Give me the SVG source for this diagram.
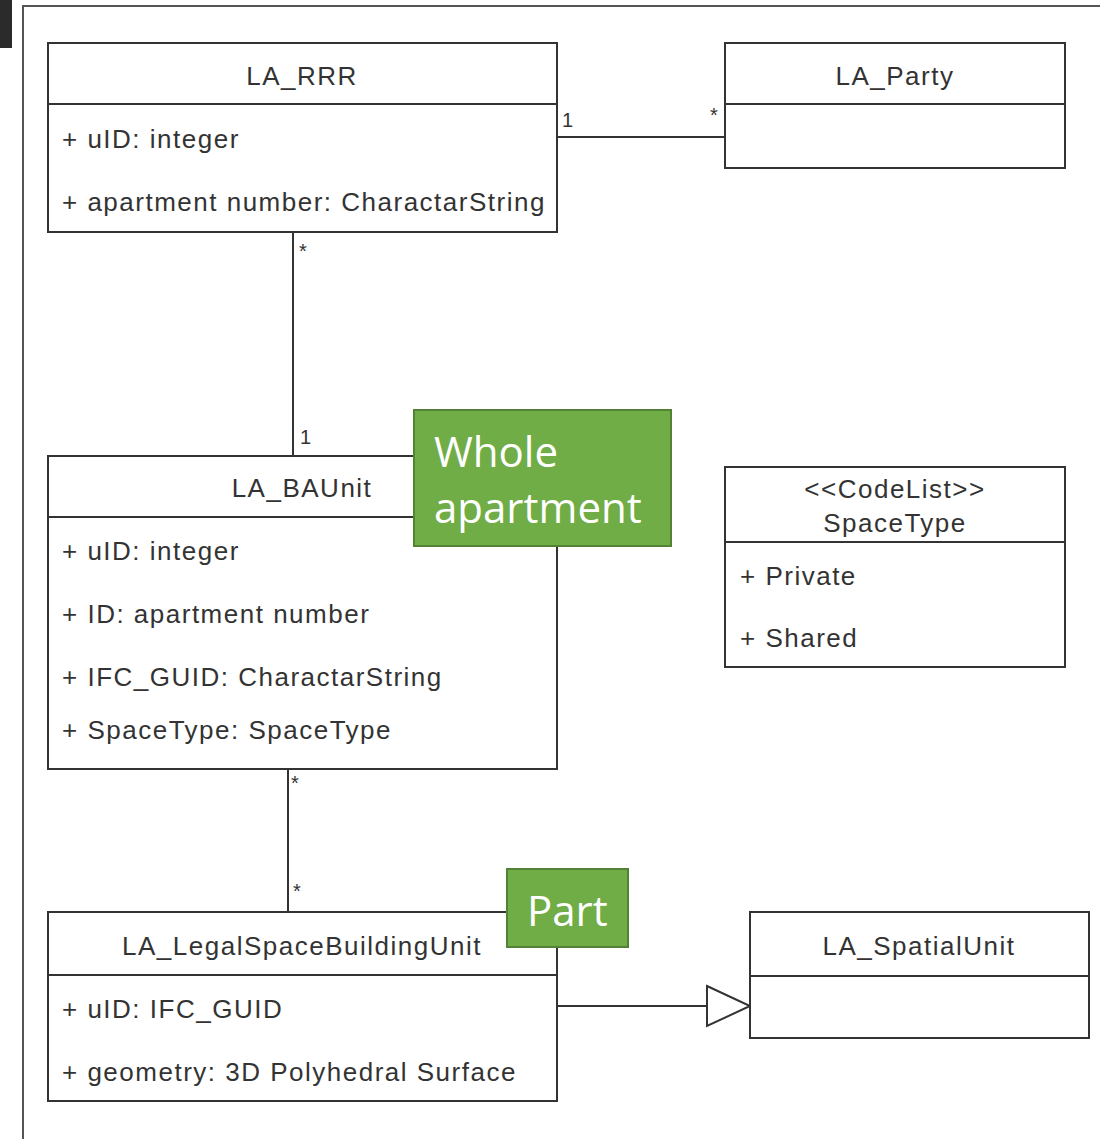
<svg xmlns="http://www.w3.org/2000/svg" width="1100" height="1139" viewBox="0 0 1100 1139">
<style>
.box{fill:#fff;stroke:#333;stroke-width:2}
.ln{stroke:#333;stroke-width:2;fill:none}
.t{font-family:"Liberation Sans",Arial,sans-serif;font-size:26px;letter-spacing:1.5px;fill:#333}
.c{text-anchor:middle}
.m{font-family:"Liberation Sans",Arial,sans-serif;font-size:20px;fill:#333}
.tag{fill:#70ad47;stroke:#548235;stroke-width:2}
.gt{font-family:"Open Sans","Noto Sans",sans-serif;font-size:42px;fill:#fff}
</style>
<rect x="0" y="0" width="1100" height="1139" fill="#fff"/>
<rect x="0" y="0" width="12" height="48" fill="#2b2b2b"/>
<path d="M23,1139 V6 H1100" class="ln" stroke-width="2.5" style="stroke:#555"/>
<g id="connectors">
<line x1="557" y1="137" x2="725" y2="137" class="ln"/>
<text x="562" y="127" class="m">1</text>
<text x="710" y="122" class="m">*</text>
<line x1="293" y1="232" x2="293" y2="456" class="ln"/>
<text x="299" y="258" class="m">*</text>
<text x="300" y="444" class="m">1</text>
<line x1="288" y1="769" x2="288" y2="912" class="ln"/>
<text x="291" y="790" class="m">*</text>
<text x="293" y="898" class="m">*</text>
<line x1="557" y1="1006" x2="707" y2="1006" class="ln"/>
<polygon points="707,986 750,1006 707,1026" class="box"/>
</g>
<g id="LA_RRR">
<rect x="48" y="43" width="509" height="189" class="box"/>
<line x1="48" y1="104" x2="557" y2="104" class="ln"/>
<text x="302" y="85" class="t c">LA_RRR</text>
<text x="62" y="148" class="t">+ uID: integer</text>
<text x="62" y="211" class="t">+ apartment number: CharactarString</text>
</g>
<g id="LA_Party">
<rect x="725" y="43" width="340" height="125" class="box"/>
<line x1="725" y1="104" x2="1065" y2="104" class="ln"/>
<text x="895" y="85" class="t c">LA_Party</text>
</g>
<g id="LA_BAUnit">
<rect x="48" y="456" width="509" height="313" class="box"/>
<line x1="48" y1="517" x2="557" y2="517" class="ln"/>
<text x="302" y="497" class="t c">LA_BAUnit</text>
<text x="62" y="560" class="t">+ uID: integer</text>
<text x="62" y="623" class="t">+ ID: apartment number</text>
<text x="62" y="686" class="t">+ IFC_GUID: CharactarString</text>
<text x="62" y="739" class="t">+ SpaceType: SpaceType</text>
</g>
<g id="SpaceType">
<rect x="725" y="467" width="340" height="200" class="box"/>
<line x1="725" y1="542" x2="1065" y2="542" class="ln"/>
<text x="895" y="498" class="t c">&lt;&lt;CodeList&gt;&gt;</text>
<text x="895" y="532" class="t c">SpaceType</text>
<text x="740" y="585" class="t">+ Private</text>
<text x="740" y="647" class="t">+ Shared</text>
</g>
<g id="LA_LegalSpaceBuildingUnit">
<rect x="48" y="912" width="509" height="189" class="box"/>
<line x1="48" y1="975" x2="557" y2="975" class="ln"/>
<text x="302" y="955" class="t c">LA_LegalSpaceBuildingUnit</text>
<text x="62" y="1018" class="t">+ uID: IFC_GUID</text>
<text x="62" y="1081" class="t">+ geometry: 3D Polyhedral Surface</text>
</g>
<g id="LA_SpatialUnit">
<rect x="750" y="912" width="339" height="126" class="box"/>
<line x1="750" y1="976" x2="1089" y2="976" class="ln"/>
<text x="919" y="955" class="t c">LA_SpatialUnit</text>
</g>
<g id="whole_apartment">
<rect x="414" y="410" width="257" height="136" class="tag"/>
<text x="434" y="467" class="gt">Whole</text>
<text x="434" y="523" class="gt">apartment</text>
</g>
<g id="part">
<rect x="507" y="869" width="121" height="78" class="tag"/>
<text x="527" y="926" class="gt">Part</text>
</g>
</svg>
